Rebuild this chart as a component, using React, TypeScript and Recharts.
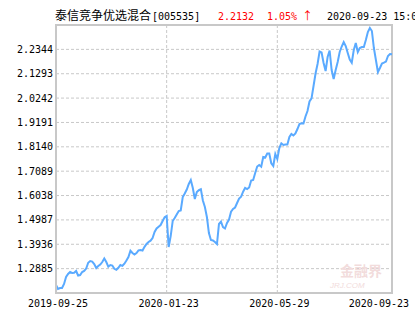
import { LineChart, Line, XAxis, YAxis, CartesianGrid, ReferenceArea } from "recharts";

// unit NAV, one reading every ~2px along the curve (2019-09-25 .. 2020-09-23)
const navValues = [
  1.2179, 1.2006, 1.2049, 1.2049, 1.2222, 1.2524, 1.2653, 1.2739, 1.2696, 1.2709,
  1.2783, 1.2588, 1.2610, 1.2739, 1.2783, 1.2890, 1.3140, 1.3214, 1.3192, 1.3085,
  1.2912, 1.2998, 1.3063, 1.3171, 1.3322, 1.3171, 1.2968, 1.3041, 1.3020, 1.2877,
  1.2834, 1.2921, 1.3041, 1.3007, 1.3098, 1.3236, 1.3387, 1.3658, 1.3559, 1.3494,
  1.3559, 1.3675, 1.3688, 1.3667, 1.3826, 1.3947, 1.4034, 1.4090, 1.4206, 1.4465,
  1.4616, 1.4694, 1.4767, 1.4940, 1.5099, 1.5155, 1.3818, 1.4292, 1.4940, 1.5069,
  1.5220, 1.5371, 1.5393, 1.5975, 1.6126, 1.6298, 1.6536, 1.6708, 1.6363, 1.5889,
  1.6191, 1.6268, 1.6307, 1.5824, 1.5544, 1.5112, 1.4422, 1.4120, 1.4098, 1.4034,
  1.3947, 1.4810, 1.4909, 1.4681, 1.4616, 1.4853, 1.5004, 1.5341, 1.5457, 1.5522,
  1.5716, 1.5910, 1.5988, 1.6204, 1.6372, 1.6320, 1.6385, 1.6687, 1.6708, 1.7010,
  1.7291, 1.7355, 1.7282, 1.7701, 1.7679, 1.7852, 1.7852, 1.7429, 1.7312, 1.7830,
  1.7614, 1.8089, 1.8292, 1.8218, 1.8240, 1.8240, 1.8563, 1.8693, 1.8628, 1.8714,
  1.8908, 1.9124, 1.9154, 1.9146, 1.9448, 1.9685, 2.0095, 2.0233, 2.0763, 2.1303,
  2.1713, 2.2252, 2.2209, 2.1756, 2.1411, 2.2015, 2.2295, 2.1454, 2.1065, 2.1454,
  2.1799, 2.2230, 2.2467, 2.2662, 2.2489, 2.2187, 2.1907, 2.1769, 2.2316, 2.2618,
  2.2230, 2.2403, 2.2446, 2.2446, 2.2748, 2.3093, 2.3266, 2.3136, 2.2403, 2.1885,
  2.1367, 2.1540, 2.1734, 2.1769, 2.1820, 2.2058, 2.2144, 2.2132,
];

const tickIndex = [0, 55, 110, 167];
const tickDates = ["2019-09-25", "2020-01-23", "2020-05-29", "2020-09-23"];
const yTicks = [1.2885, 1.3936, 1.4987, 1.6038, 1.7089, 1.814, 1.9191, 2.0242, 2.1293, 2.2344];
const yMin = 1.1834;
const yMax = 2.3395;

const fundName = "泰信竞争优选混合";
const fundCode = "[005535]";
const lastNav = "2.2132";
const lastChange = "1.05%";
const lastTime = "2020-09-23 15:00";

const data = navValues.map((nav, i) => ({ i, nav }));

const mono = "'DejaVu Sans Mono', monospace";

function DateTick(props: any) {
  const { x, y, index } = props;
  const last = index === tickIndex.length - 1;
  return (
    <text
      x={last ? 409 : x + 2}
      y={y + 12}
      textAnchor={last ? "end" : "middle"}
      fontFamily={mono}
      fontSize={10}
      fill="#000"
    >
      {tickDates[index]}
    </text>
  );
}

export default function App() {
  return (
    <div style={{ position: "fixed", left: 0, top: 0, width: 415, height: 330, background: "#fff", overflow: "hidden" }}>
      <LineChart width={415} height={330} data={data} margin={{ top: 25, right: 23, bottom: 0, left: 0 }}>
        <CartesianGrid stroke="#c8c8c8" strokeDasharray="3 2" />
        <XAxis
          type="number"
          dataKey="i"
          domain={[0, navValues.length - 1]}
          ticks={tickIndex}
          tick={<DateTick />}
          tickLine={false}
          tickSize={0}
          height={37}
          axisLine={{ stroke: "#c8c8c8", strokeWidth: 2 }}
          interval={0}
        />
        <YAxis
          type="number"
          domain={[yMin, yMax]}
          ticks={yTicks}
          tickFormatter={(v: number) => v.toFixed(4)}
          tick={{ fontFamily: mono, fontSize: 10, fill: "#000" }}
          tickLine={false}
          tickSize={0}
          tickMargin={3}
          width={56}
          axisLine={{ stroke: "#c8c8c8", strokeWidth: 2 }}
          interval={0}
        />
        <ReferenceArea
          x1={0}
          x2={navValues.length - 1}
          y1={yMin}
          y2={yMax}
          fill="none"
          stroke="#c8c8c8"
          strokeWidth={2}
        />
        <Line
          type="linear"
          dataKey="nav"
          stroke="#5aaaff"
          strokeWidth={2}
          dot={false}
          isAnimationActive={false}
        />
      </LineChart>
      <svg width={415} height={330} style={{ position: "absolute", left: 0, top: 0, pointerEvents: "none" }}>
        <text x={55} y={20} fontFamily="'Noto Sans CJK SC'" fontSize={12} fill="#000">{fundName}</text>
        <text x={152} y={20} fontFamily={mono} fontSize={10} fill="#000">{fundCode}</text>
        <text x={218} y={20} fontFamily={mono} fontSize={10} fill="#ff0000">{lastNav}</text>
        <text x={267} y={20} fontFamily={mono} fontSize={10} fill="#ff0000">{lastChange}</text>
        <text x={302} y={20} fontFamily="'Noto Sans CJK SC'" fontSize={11} fill="#ff0000">↑</text>
        <text x={327} y={20} fontFamily={mono} fontSize={10} fill="#000">{lastTime}</text>
        <text x={340} y={276} fontFamily="'Noto Sans CJK SC'" fontSize={14} fontWeight={700} fill="#f2dcdc">金融界</text>
        <text x={330} y={288} fontFamily="'Liberation Sans'" fontSize={8} fontStyle="italic" fill="#f2dcdc">JRJ.COM</text>
      </svg>
    </div>
  );
}
